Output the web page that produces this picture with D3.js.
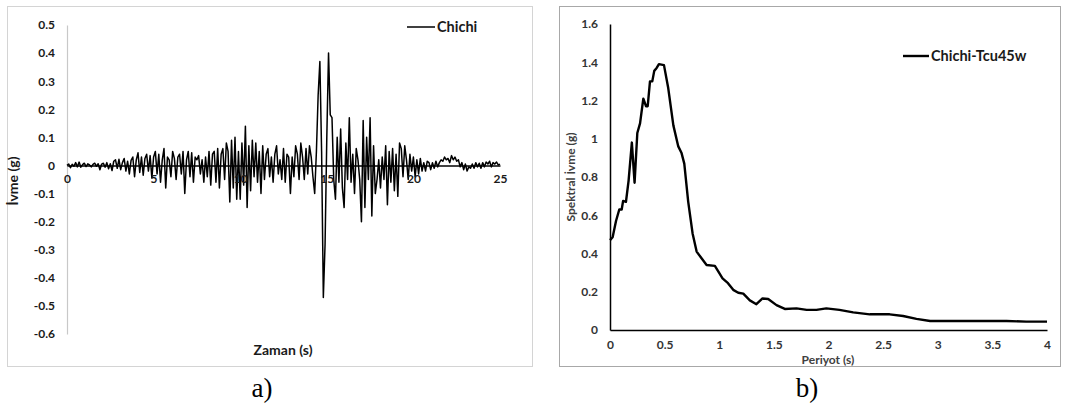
<!DOCTYPE html>
<html><head><meta charset="utf-8">
<script src="https://cdn.jsdelivr.net/npm/d3@7/dist/d3.min.js"></script>
<style>
body{margin:0;background:#fff;}
svg{display:block;}
text{font-family:Lato,"Open Sans",sans-serif;}
text.cap{font-family:"Liberation Serif","Times New Roman",serif;}
</style></head>
<body><svg id="c" width="1080" height="409"></svg>
<script>
// ---------- Data: panel a) time history (dt = 0.1 s) ----------
const dtA = 0.1;
const accel = [
 0,0.005,-0.008,0.004,-0.003,0.01,-0.005,0.012,-0.006,0.003,
 0.008,-0.004,0.006,0.002,-0.005,0.004,0.008,-0.003,0.006,-0.015,
 0.005,0.008,-0.006,0.01,-0.012,0.006,-0.018,0.015,0.02,-0.01,
 0.022,-0.015,0.01,0.025,-0.02,0.015,-0.03,0.018,0.03,-0.04,
 0.02,0.045,-0.025,0.03,-0.035,0.025,0.04,-0.02,0.035,-0.045,
 0.03,0.05,-0.03,0.04,-0.06,0.02,0.06,-0.08,0.03,0.02,
 -0.04,0.05,0.025,-0.05,0.03,0.04,-0.03,0.05,-0.1,0.02,
 0.05,-0.04,0.045,-0.06,0.03,0.02,0.035,-0.03,0.02,-0.06,
 0.03,-0.04,0.05,-0.07,0.04,0.05,-0.06,0.06,-0.08,0.04,
 0.06,-0.05,0.08,0.05,-0.13,0.09,-0.08,0.1,-0.12,0.05,
 -0.12,0.08,-0.07,0.14,-0.15,0.07,-0.09,0.09,-0.04,0.08,
 -0.06,0.05,-0.1,0.07,-0.05,0.04,0.06,-0.04,0.03,-0.06,
 0.04,0.07,-0.03,0.02,-0.05,0.06,-0.06,0.04,0.03,-0.1,
 0.03,-0.04,0.07,0.04,-0.05,0.08,0.03,-0.05,0.06,-0.03,
 0.07,0.03,-0.04,-0.1,0.05,0.25,0.37,0.05,-0.47,-0.28,
 0.1,0.4,0.18,0.17,-0.05,-0.12,0.1,-0.06,0.13,-0.08,
 -0.15,0.08,-0.05,0.17,-0.06,0.04,-0.1,0.06,0.02,-0.05,
 -0.2,0.16,-0.15,0.1,-0.05,0.17,-0.18,0.07,-0.1,-0.05,
 0.02,-0.08,0.03,-0.05,0.07,-0.14,0.05,-0.06,0.06,-0.09,
 0.04,-0.11,0.08,0.06,-0.04,0.07,0.02,-0.05,0.04,-0.02,
 0.03,-0.04,0.02,-0.03,0.025,-0.02,0.01,-0.02,0.015,0.01,
 -0.015,0.01,-0.01,0.015,-0.005,0.01,0.02,0.015,0.03,0.02,
 0.025,0.01,0.035,0.02,0.03,0.015,0.02,-0.005,0.01,-0.015,
 0.005,-0.02,-0.005,-0.01,0.005,-0.01,0.01,-0.005,0.008,-0.01,
 0.01,-0.005,0.012,0.005,0.015,-0.005,0.01,0.005,0.012,0.002,
 0.005
];
const xTicksA = [0,5,10,15,20,25];
const yTicksA = [0.5,0.4,0.3,0.2,0.1,0,-0.1,-0.2,-0.3,-0.4,-0.5,-0.6];
const seriesA = "Chichi";

// ---------- Data: panel b) response spectrum ----------
const period = [0,0.024,0.055,0.085,0.107,0.12,0.146,0.17,0.2,0.225,0.25,0.275,0.305,0.33,0.345,0.366,0.387,0.405,0.427,0.448,0.494,0.533,0.58,0.625,0.655,0.68,0.716,0.756,0.793,0.838,0.884,0.96,1.03,1.08,1.128,1.174,1.22,1.28,1.34,1.396,1.448,1.524,1.6,1.707,1.8,1.89,1.98,2.1,2.226,2.378,2.56,2.683,2.805,2.93,3.17,3.63,3.81,4.0];
const sa =     [0.47,0.485,0.57,0.63,0.63,0.675,0.67,0.78,0.98,0.77,1.03,1.08,1.21,1.17,1.17,1.3,1.3,1.355,1.37,1.39,1.385,1.265,1.07,0.96,0.925,0.87,0.67,0.505,0.41,0.375,0.34,0.335,0.27,0.245,0.21,0.195,0.19,0.155,0.135,0.165,0.162,0.13,0.11,0.113,0.105,0.105,0.113,0.105,0.092,0.082,0.082,0.073,0.058,0.047,0.047,0.047,0.044,0.044];
const xTicksB = [0,0.5,1,1.5,2,2.5,3,3.5,4];
const yTicksB = [0,0.2,0.4,0.6,0.8,1,1.2,1.4,1.6];
const seriesB = "Chichi-Tcu45w";

const svg = d3.select("#c");
const fmt = v => (v === 0 ? "0" : String(+v.toFixed(1)));

// ================= Panel a =================
const gA = svg.append("g");
gA.append("rect").attr("x",7.5).attr("y",6.5).attr("width",525).attr("height",360)
  .attr("fill","#fff").attr("stroke","#d4d4d4").attr("stroke-width",1);

const xA = d3.scaleLinear().domain([0,25]).range([67,500]);
const yA = d3.scaleLinear().domain([-0.6,0.5]).range([334,25]);

const yAxA = gA.append("g").attr("transform","translate(67,0)")
  .call(d3.axisLeft(yA).tickValues(yTicksA).tickSize(0).tickPadding(12).tickFormat(fmt));
yAxA.select(".domain").attr("stroke","#c8c8c8").attr("stroke-width",1.2);
yAxA.selectAll("text").attr("font-size",12).attr("font-weight","bold").attr("fill","#1a1a1a");

const lineA = d3.line().x((d,i)=>xA(i*dtA)).y(d=>yA(d));
gA.append("path").datum(accel).attr("d",lineA).attr("fill","none")
  .attr("stroke","#000").attr("stroke-width",1.5).attr("stroke-linejoin","round");

const xAxA = gA.append("g").attr("transform",`translate(0,${yA(0)})`)
  .call(d3.axisBottom(xA).tickValues(xTicksA).tickSize(0).tickPadding(9).tickFormat(d3.format("d")));
xAxA.select(".domain").attr("stroke","#000").attr("stroke-width",1.5);
xAxA.selectAll("text").attr("font-size",12).attr("font-weight","bold").attr("fill","#1a1a1a");

gA.append("text").attr("transform","translate(18,181) rotate(-90)").attr("text-anchor","middle")
  .attr("font-size",14).attr("font-weight","bold").attr("fill","#1a1a1a").text("İvme (g)");
gA.append("text").attr("x",283).attr("y",355).attr("text-anchor","middle")
  .attr("font-size",14).attr("font-weight","bold").attr("fill","#1a1a1a").text("Zaman (s)");

gA.append("line").attr("x1",407).attr("x2",435).attr("y1",27).attr("y2",27).attr("stroke","#000").attr("stroke-width",1.5);
gA.append("text").attr("x",437).attr("y",32).attr("font-size",14.5).attr("font-weight","bold").attr("fill","#1a1a1a").text(seriesA);

svg.append("text").attr("class","cap").attr("x",262).attr("y",397).attr("text-anchor","middle")
  .attr("font-size",27).attr("fill","#000").text("a)");

// ================= Panel b =================
const gB = svg.append("g");
gB.append("rect").attr("x",559.5).attr("y",6.5).attr("width",501).attr("height",360)
  .attr("fill","#fff").attr("stroke","#a8a8a8").attr("stroke-width",1);

const xB = d3.scaleLinear().domain([0,4]).range([610,1047]);
const yB = d3.scaleLinear().domain([0,1.6]).range([330,24]);

const yAxB = gB.append("g").attr("transform","translate(610,0)")
  .call(d3.axisLeft(yB).tickValues(yTicksB).tickSize(0).tickPadding(12).tickFormat(fmt));
yAxB.select(".domain").attr("stroke","#000").attr("stroke-width",1.5);
yAxB.selectAll("text").attr("font-size",12).attr("font-weight","bold").attr("fill","#333");

const xAxB = gB.append("g").attr("transform","translate(0,330)")
  .call(d3.axisBottom(xB).tickValues(xTicksB).tickSize(0).tickPadding(10).tickFormat(fmt));
xAxB.select(".domain").attr("stroke","#000").attr("stroke-width",1.5);
xAxB.selectAll("text").attr("font-size",12).attr("font-weight","bold").attr("fill","#333");

const lineB = d3.line().x((d,i)=>xB(period[i])).y(d=>yB(d));
gB.append("path").datum(sa).attr("d",lineB).attr("fill","none")
  .attr("stroke","#000").attr("stroke-width",2.4).attr("stroke-linejoin","round");

gB.append("text").attr("transform","translate(575,177) rotate(-90)").attr("text-anchor","middle")
  .attr("font-size",12).attr("font-weight","bold").attr("fill","#404040").text("Spektral İvme (g)");
gB.append("text").attr("x",828).attr("y",364).attr("text-anchor","middle")
  .attr("font-size",12).attr("font-weight","bold").attr("fill","#404040").text("Periyot (s)");

gB.append("line").attr("x1",903).attr("x2",929).attr("y1",56).attr("y2",56).attr("stroke","#000").attr("stroke-width",2.4);
gB.append("text").attr("x",931).attr("y",61).attr("font-size",14.5).attr("font-weight","bold").attr("fill","#1a1a1a").text(seriesB);

svg.append("text").attr("class","cap").attr("x",807).attr("y",397).attr("text-anchor","middle")
  .attr("font-size",27).attr("fill","#000").text("b)");
</script></body></html>
